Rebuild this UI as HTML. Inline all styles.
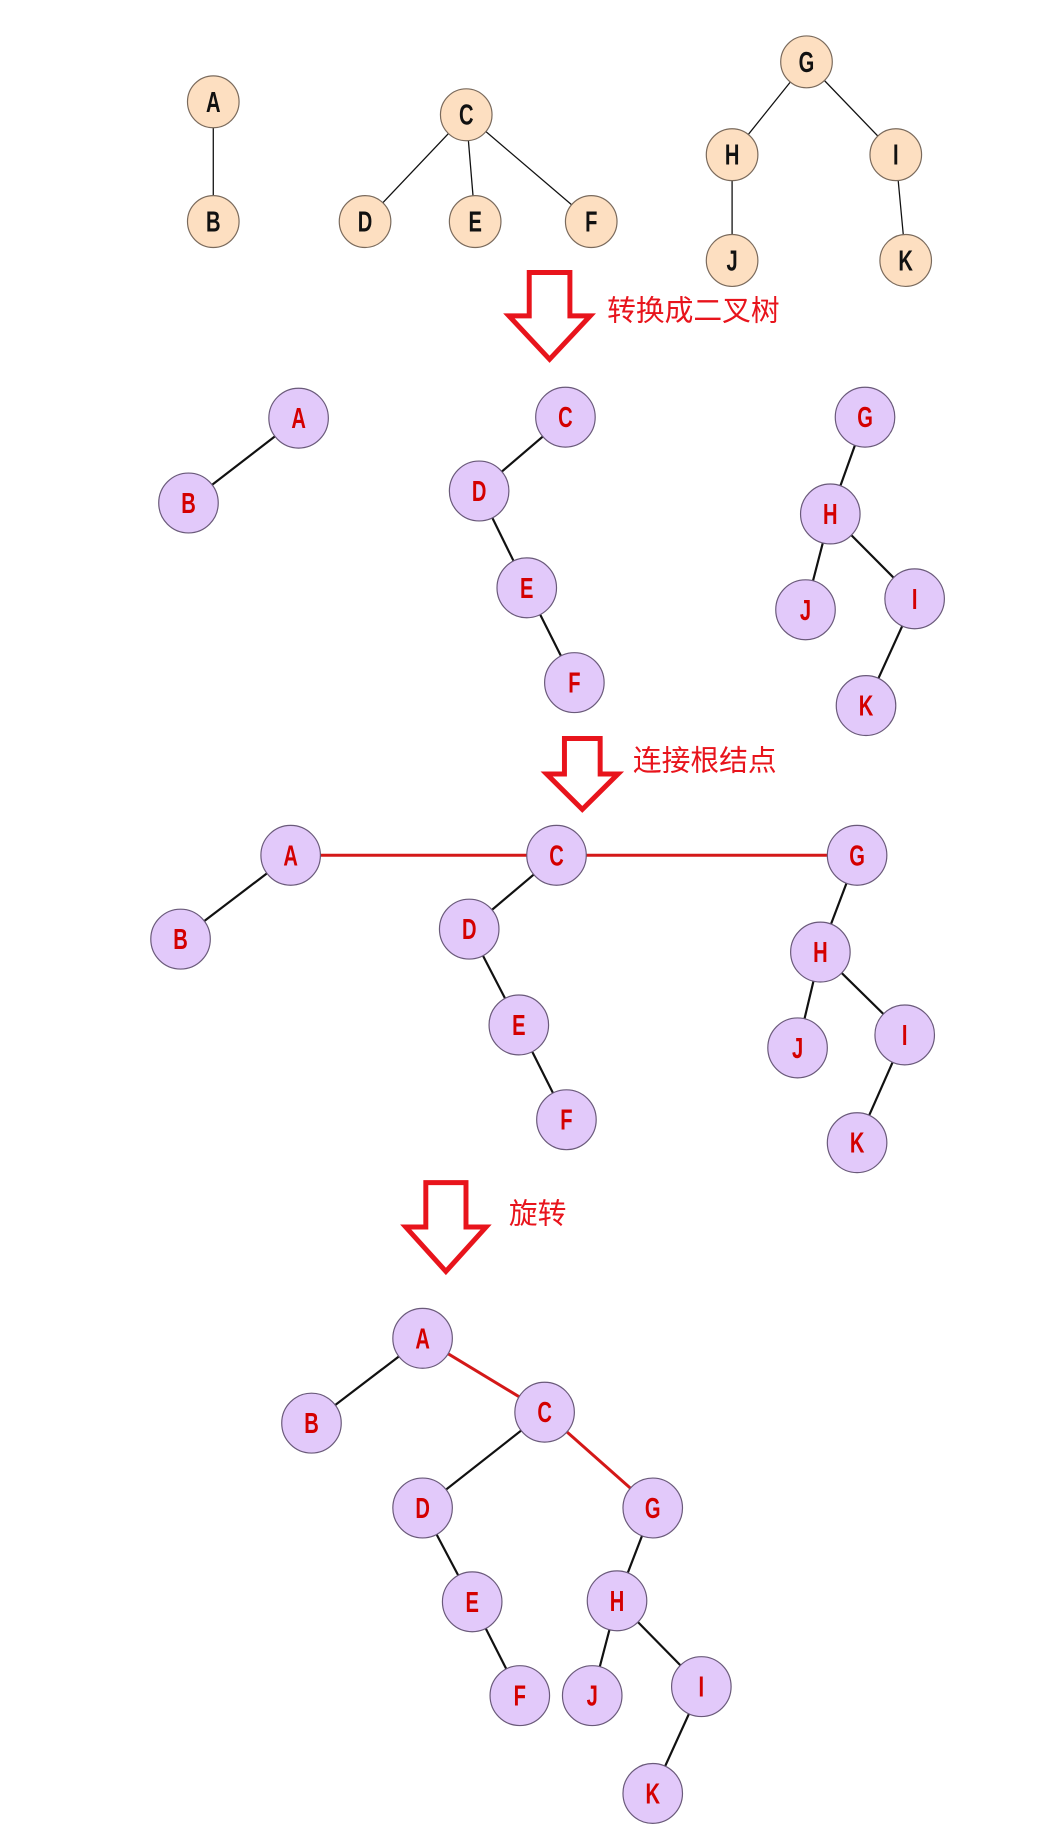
<!DOCTYPE html>
<html><head><meta charset="utf-8"><style>
html,body{margin:0;padding:0;background:#fff;}
svg{display:block;}
text{font-family:"Liberation Sans","Noto Sans CJK SC",sans-serif;}
</style></head><body>
<svg id="s" width="1044" height="1833" viewBox="0 0 1044 1833" xmlns="http://www.w3.org/2000/svg"><g id="g" transform="scale(0.992 0.998)"></g></svg>
<script>
const NS="http://www.w3.org/2000/svg";
const svg=document.getElementById('g');
// node data: [label,x,y]
const forestNodes=[["A",215,102],["B",215,222],["C",470,115],["D",368,222],["E",479,222],["F",596,222],["G",813,62],["H",738,155],["I",903,155],["J",738,261],["K",913,261]];
const forestEdges=[["A","B"],["C","D"],["C","E"],["C","F"],["G","H"],["G","I"],["H","J"],["I","K"]];
const binNodes=[["A",301,419],["B",190,504],["C",570,418],["D",483,492],["E",531,589],["F",579,684],["G",872,418],["H",837,515],["J",812,611],["I",922,600],["K",873,707]];
const binEdges=[["A","B"],["C","D"],["D","E"],["E","F"],["G","H"],["H","J"],["H","I"],["I","K"]];
const linkNodes=[["A",293,857],["B",182,941],["C",561,857],["D",473,931],["E",523,1027],["F",571,1122],["G",864,857],["H",827,954],["J",804,1050],["I",912,1037],["K",864,1145]];
const linkEdges=[["A","B"],["C","D"],["D","E"],["E","F"],["G","H"],["H","J"],["H","I"],["I","K"]];
const linkRed=[["A","C"],["C","G"]];
const finalNodes=[["A",426,1341],["B",314,1426],["C",549,1415],["D",426,1511],["G",658,1511],["E",476,1605],["H",622,1604],["F",524,1699],["J",597,1699],["I",707,1690],["K",658,1797]];
const finalEdges=[["A","B"],["C","D"],["D","E"],["E","F"],["G","H"],["H","J"],["H","I"],["I","K"]];
const finalRed=[["A","C"],["C","G"]];
const arrows=[[513,273,595,360,"转换成二叉树",612,321],[551,740,623,811,"连接根结点",638,772],[409,1185,490,1274,"旋转",513,1226]];

function el(tag,attrs){const e=document.createElementNS(NS,tag);for(const k in attrs)e.setAttribute(k,attrs[k]);svg.appendChild(e);return e;}
function drawTree(nodes,edges,red,style,prefix){
  const m={};nodes.forEach(n=>m[n[0]]=n);
  edges.forEach(e=>{const a=m[e[0]],b=m[e[1]];
    const l=el('line',{x1:a[1],y1:a[2],x2:b[1],y2:b[2],stroke:'#111','stroke-width':style.lw});
    
    });
  (red||[]).forEach(e=>{const a=m[e[0]],b=m[e[1]];
    const l=el('line',{x1:a[1],y1:a[2],x2:b[1],y2:b[2],stroke:'#d41818','stroke-width':3});
    
    });
  nodes.forEach(n=>{
    const c=el('circle',{cx:n[1],cy:n[2],r:style.r,fill:style.fill,stroke:style.stroke,'stroke-width':1.2});
    
    
    const t=el('text',{x:n[1],y:n[2]+10,'text-anchor':'middle','font-size':29,'font-weight':'bold',fill:style.tc,transform:`translate(${n[1]} 0) scale(0.7 1) translate(${-n[1]} 0)`});
    t.textContent=n[0];
    
    
  });
}
const beige={r:26,fill:'#fddfc1',stroke:'#7a6a5c',tc:'#111',lw:1.3};
const purple={r:30,fill:'#e2c9fa',stroke:'#6a5a7a',tc:'#d40000',lw:2.2};
drawTree(forestNodes,forestEdges,[],beige,'forest');
drawTree(binNodes,binEdges,[],purple,'binary');
drawTree(linkNodes,linkEdges,linkRed,purple,'linked');
drawTree(finalNodes,finalEdges,finalRed,purple,'final');
arrows.forEach((a,i)=>{
  const [x0,y0,x1,y1,txt,tx,ty]=a;const w=x1-x0,h=y1-y0,cx=(x0+x1)/2;
  const sl=x0+w*0.25,sr=x0+w*0.75,hy=y0+h*0.5;
  const p=el('polygon',{points:`${sl},${y0} ${sr},${y0} ${sr},${hy} ${x1},${hy} ${cx},${y1} ${x0},${hy} ${sl},${hy}`,fill:'#fff',stroke:'#e8141c','stroke-width':5,'stroke-linejoin':'miter'});
  
  
  const t=el('text',{x:tx,y:ty,'font-size':29,fill:'#e8141c'});
  t.textContent=txt;
  
  
});
</script>
</body></html>
